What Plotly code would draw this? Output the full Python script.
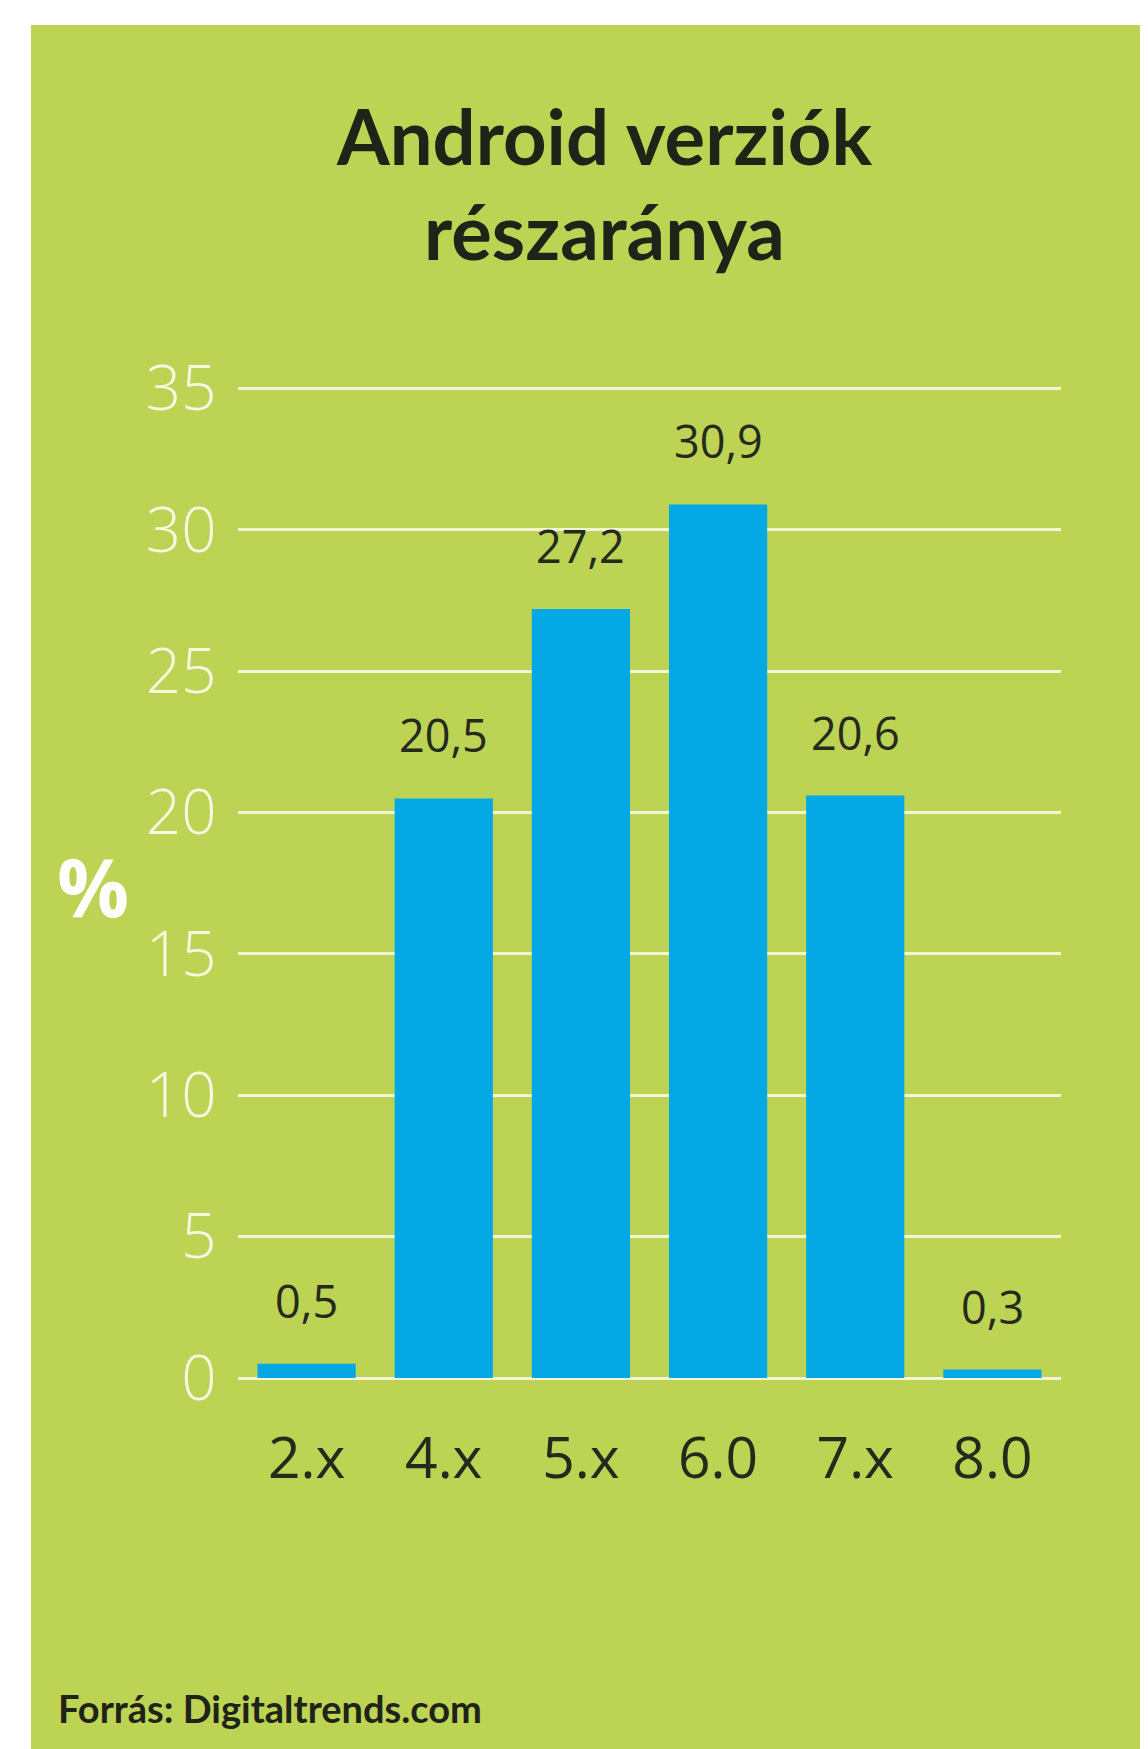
import plotly.graph_objects as go

categories = ["2.x", "4.x", "5.x", "6.0", "7.x", "8.0"]
values = [0.5, 20.5, 27.2, 30.9, 20.6, 0.3]
y_ticks = [0, 5, 10, 15, 20, 25, 30, 35]

W, H = 1148, 1749
OFF = 8  # page body margin
L, R, T, B = 230, 95, 372, 379
PW = W - L - R
PH = H - T - B


def px(x):
    """page pixel x -> paper coordinate"""
    return (x - OFF - L) / PW


def py(y):
    """page pixel y -> paper coordinate"""
    return (H - B - (y - OFF)) / PH


GREEN = "#bcd354"
BLUE = "#03a8e4"
GRID = "#f3f6d6"
DARK = "#262a1c"
TITLE_FONT = "Lato, 'Open Sans', sans-serif"

labels = [f"{v:.1f}".replace(".", ",") for v in values]

fig = go.Figure()
fig.add_trace(go.Bar(
    x=categories, y=values,
    marker=dict(color=BLUE, line=dict(width=0)),
    hoverinfo="skip",
))

annotations = []
for i, (v, t) in enumerate(zip(values, labels)):
    annotations.append(dict(
        x=i, y=v, xref="x", yref="y", text=t, showarrow=False,
        yanchor="bottom", yshift=31,
        font=dict(family="Open Sans", size=45, color=DARK),
    ))

annotations += [
    dict(x=px(604), y=py(164), xref="paper", yref="paper",
         text="Android verziók", showarrow=False,
         xanchor="center", yanchor="bottom", yshift=-19,
         font=dict(family=TITLE_FONT, size=76, color="#1f2318", weight=700)),
    dict(x=px(604), y=py(259), xref="paper", yref="paper",
         text="részaránya", showarrow=False,
         xanchor="center", yanchor="bottom", yshift=-19,
         font=dict(family=TITLE_FONT, size=76, color="#1f2318", weight=700)),
    dict(x=px(93), y=py(885), xref="paper", yref="paper",
         text="%", showarrow=False,
         xanchor="center", yanchor="middle",
         font=dict(family="Open Sans", size=80, color="#ffffff", weight=700)),
    dict(x=px(56), y=py(1723), xref="paper", yref="paper",
         text="Forrás: Digitaltrends.com", showarrow=False,
         xanchor="left", yanchor="bottom", yshift=-10,
         font=dict(family=TITLE_FONT, size=38, color="#1f2318", weight=700)),
]

fig.update_layout(
    width=W, height=H,
    margin=dict(l=L, r=R, t=T, b=B, pad=0),
    paper_bgcolor="#ffffff",
    plot_bgcolor="rgba(0,0,0,0)",
    showlegend=False,
    bargap=0.284,
    annotations=annotations,
    shapes=[dict(type="rect", xref="paper", yref="paper",
                 x0=px(31), x1=px(W + 20), y0=py(H + 20), y1=py(25),
                 fillcolor=GREEN, line=dict(width=0), layer="below")],
)

fig.update_xaxes(
    range=[-0.5, 5.5], showgrid=False, zeroline=False, showline=False,
    ticks="outside", ticklen=31, tickcolor="rgba(0,0,0,0)",
    tickfont=dict(family="Open Sans", size=57, color=DARK),
)
fig.update_yaxes(
    range=[0, 35.3], tickvals=y_ticks, ticktext=[str(v) for v in y_ticks],
    showgrid=True, gridcolor=GRID, gridwidth=3,
    zeroline=True, zerolinecolor=GRID, zerolinewidth=3,
    showline=False,
    ticks="outside", ticklen=8, tickcolor="rgba(0,0,0,0)",
    tickfont=dict(family="Open Sans", size=62, color="#f6f8e0", weight=300),
)

fig.write_html("out.html")
